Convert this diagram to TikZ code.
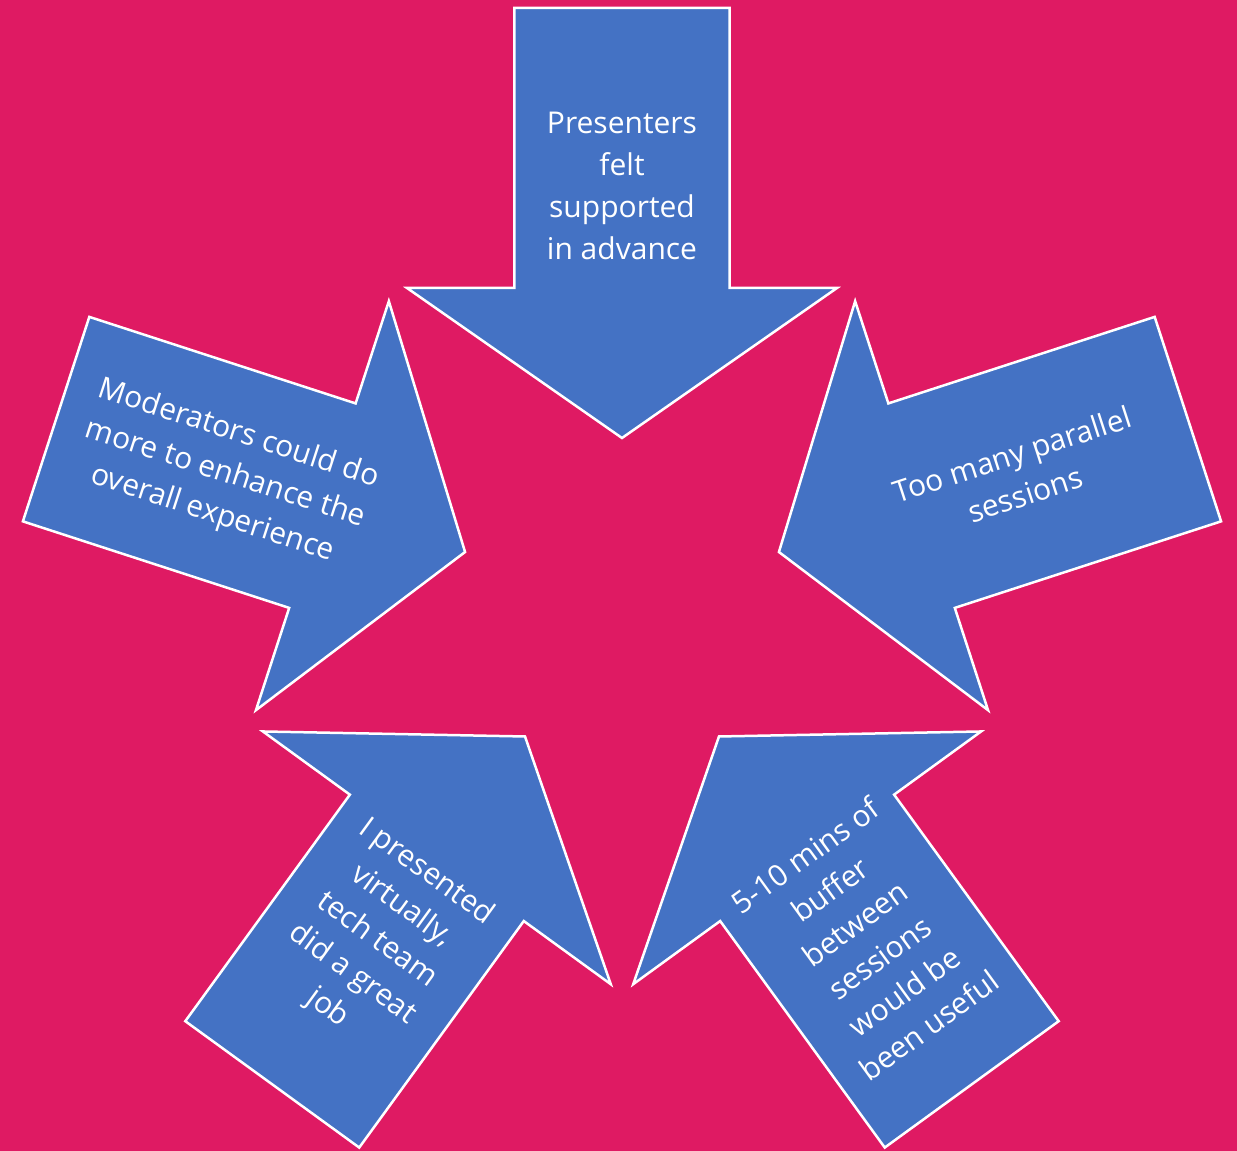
\documentclass[tikz,border=0pt]{standalone}
\usepackage{fontspec}
\setmainfont{Open Sans}
\usetikzlibrary{positioning}
\definecolor{bgpink}{HTML}{DF1A63}
\definecolor{arrowblue}{HTML}{4472C4}
\def\tipdist{165}
\def\textdist{417}

\begin{document}
\begin{tikzpicture}[x=1pt,y=1pt]
    \tikzstyle{arrowbox}=[fill=arrowblue, draw=white, line width=2.5pt, line join=miter]
    \tikzstyle{arrowtext}=[text=white, align=center, inner sep=0pt, font=\fontsize{30}{42}\selectfont]

    % background, same size as the slide
    \fill[bgpink] (-622,-548) rectangle (615,603);
    \useasboundingbox (-622,-548) rectangle (615,603);

    % the five arrows, all pointing to the middle
    \foreach \ang in {90,162,234,306,18}
        \draw[arrowbox, rotate=\ang-90] (0,\tipdist) -- (215,315) -- (107.5,315) -- (107.5,595)
            -- (-107.5,595) -- (-107.5,315) -- (-215,315) -- cycle;

    % texts on the arrows
    \node[arrowtext] (support) at (90:\textdist) {Presenters\\felt\\supported\\in advance};
    \node[arrowtext, rotate=-18] (moder) at (162:\textdist) {Moderators could do\\more to enhance the\\overall experience};
    \node[arrowtext, rotate=18] (parallel) at (18:\textdist) {Too many parallel\\sessions};
    \node[arrowtext, rotate=-36] (virtual) at (234:\textdist) {I presented\\virtually,\\tech team\\did a great\\job};
    \node[arrowtext, rotate=36] (buffer) at (306:\textdist) {5-10 mins of\\buffer\\between\\sessions\\would be\\been useful};
\end{tikzpicture}
\end{document}
